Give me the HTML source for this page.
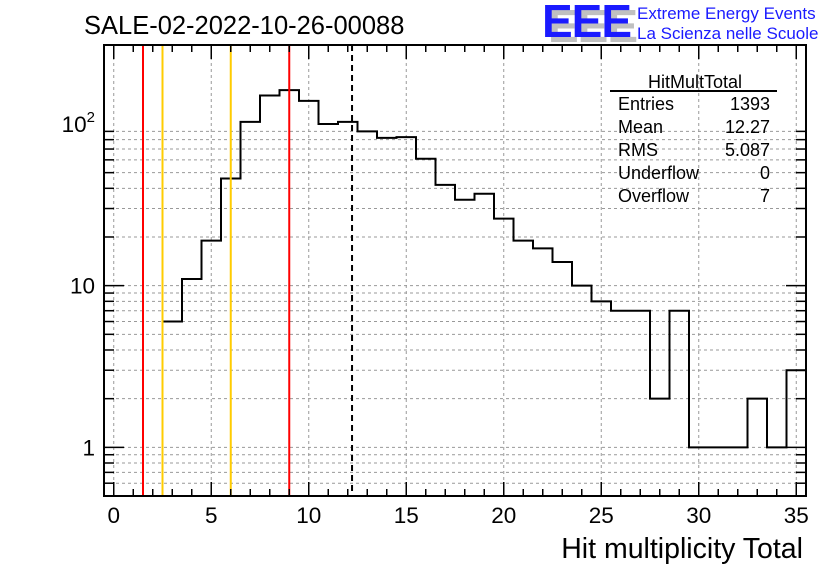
<!DOCTYPE html>
<html><head><meta charset="utf-8">
<style>
html,body{margin:0;padding:0;background:#fff;}
svg{display:block;font-family:"Liberation Sans",Arial,sans-serif;}
</style></head>
<body>
<svg id="chart" width="836" height="572" viewBox="0 0 836 572" xmlns="http://www.w3.org/2000/svg">
  <rect x="0" y="0" width="836" height="572" fill="#fff"/>
  <text x="84" y="34" font-size="25.5" fill="#000">SALE-02-2022-10-26-00088</text>
  <g>
    <text x="548" y="42" font-size="46" font-weight="bold" fill="#c0c0c0" letter-spacing="-1">EEE</text>
    <text x="542" y="37" font-size="46" font-weight="bold" fill="#1a1aff" letter-spacing="-1">EEE</text>
    <text x="637" y="19" font-size="17" fill="#1a1aff">Extreme Energy Events</text>
    <text x="637" y="39" font-size="17" fill="#1a1aff">La Scienza nelle Scuole</text>
  </g>
  <g id="grid"></g>
  <g id="marks"></g>
  <g id="axes"></g>
  <g font-size="18" fill="#000">
    <text x="695" y="88" text-anchor="middle">HitMultTotal</text>
    <line x1="610" y1="91" x2="777" y2="91" stroke="#000" stroke-width="2"/>
    <text x="618" y="110">Entries</text><text x="770" y="110" text-anchor="end">1393</text>
    <text x="618" y="133">Mean</text><text x="770" y="133" text-anchor="end">12.27</text>
    <text x="618" y="156">RMS</text><text x="770" y="156" text-anchor="end">5.087</text>
    <text x="618" y="179">Underflow</text><text x="770" y="179" text-anchor="end">0</text>
    <text x="618" y="202">Overflow</text><text x="770" y="202" text-anchor="end">7</text>
  </g>
  <text x="803" y="558" font-size="28.5" text-anchor="end">Hit multiplicity Total</text>
</svg>
<script>
const binCenters = [0,1,2,3,4,5,6,7,8,9,10,11,12,13,14,15,16,17,18,19,20,21,22,23,24,25,26,27,28,29,30,31,32,33,34,35];
const binCounts  = [0,0,0,6,11,19,46,103,150,162,139,100,103,90,82,83,61,42,34,37,26,19,17,14,10,8,7,7,2,7,1,1,1,2,1,3];
const xTicks = [0,5,10,15,20,25,30,35];
const yTickVals = [1,10,100];
const yTickLabels = ["1","10","10²"];
const cutLines = [1.5,2.5,6,9];
const cutColors = ["#ff0000","#ffcc00","#ffcc00","#ff0000"];
const meanValue = 12.22;

const L=104,R=806,T=45,B=496;
const XMIN=-0.5,XMAX=35.5,YMIN=0.5,YMAX=308;
const NS="http://www.w3.org/2000/svg";
function xs(v){return L+(v-XMIN)/(XMAX-XMIN)*(R-L);}
function ys(v){const lv=Math.log10(Math.max(v,YMIN));return B-(lv-Math.log10(YMIN))/(Math.log10(YMAX)-Math.log10(YMIN))*(B-T);}
function mk(tag,attrs,parent){const e=document.createElementNS(NS,tag);for(const k in attrs)e.setAttribute(k,attrs[k]);parent.appendChild(e);return e;}
const grid=document.getElementById('grid'),marks=document.getElementById('marks'),axes=document.getElementById('axes');

xTicks.forEach(t=>{const l=mk('line',{x1:xs(t),x2:xs(t),y1:T,y2:B,stroke:'#999','stroke-width':1,'stroke-dasharray':'3,3'},grid);

});
for(let d=0;d<=2;d++){for(let m=1;m<=9;m++){const v=m*Math.pow(10,d-1);if(v<YMIN||v>YMAX)continue;
const l=mk('line',{x1:L,x2:R,y1:ys(v),y2:ys(v),stroke:'#999','stroke-width':1,'stroke-dasharray':'3,3'},grid);

}}

let d='';let started=false;
binCenters.forEach((c,i)=>{const v=binCounts[i];if(v<=0)return;const x0=xs(c-0.5),x1=xs(c+0.5),y=ys(v);
if(!started){d+='M'+x0+','+B+' L'+x0+','+y;started=true;}else d+=' L'+x0+','+y;d+=' L'+x1+','+y;});
const h=mk('path',{d:d,fill:'none',stroke:'#000','stroke-width':2},marks);



cutLines.forEach((v,i)=>{const l=mk('line',{x1:xs(v),x2:xs(v),y1:T,y2:B,stroke:cutColors[i],'stroke-width':2},marks);

});
const ml=mk('line',{x1:xs(meanValue),x2:xs(meanValue),y1:T,y2:B,stroke:'#000','stroke-width':2,'stroke-dasharray':'6,4'},marks);



const fr=mk('rect',{x:L,y:T,width:R-L,height:B-T,fill:'none',stroke:'#000','stroke-width':2},axes);


for(let v=0;v<=35;v++){const maj=v%5===0,len=maj?14:7;
mk('line',{x1:xs(v),x2:xs(v),y1:B,y2:B-len,stroke:'#000','stroke-width':1.5},axes);
mk('line',{x1:xs(v),x2:xs(v),y1:T,y2:T+len,stroke:'#000','stroke-width':1.5},axes);}
xTicks.forEach(t=>{const tx=mk('text',{x:xs(t),y:523,'font-size':22.5,'text-anchor':'middle'},axes);tx.textContent=t;

});
for(let dd=0;dd<=2;dd++){for(let m=1;m<=9;m++){const v=m*Math.pow(10,dd-1);if(v<YMIN||v>YMAX)continue;const len=m===1?20:10;
mk('line',{x1:L,x2:L+len,y1:ys(v),y2:ys(v),stroke:'#000','stroke-width':1.5},axes);
mk('line',{x1:R,x2:R-len,y1:ys(v),y2:ys(v),stroke:'#000','stroke-width':1.5},axes);}}
yTickVals.forEach((v,i)=>{const tx=mk('text',{x:95,y:ys(v)+8,'font-size':22.5,'text-anchor':'end'},axes);
if(yTickLabels[i]==="10²"){tx.textContent='10';const s=mk('tspan',{dy:-10,'font-size':15},tx);s.textContent='2';}else tx.textContent=yTickLabels[i];

});
</script>
</body></html>
